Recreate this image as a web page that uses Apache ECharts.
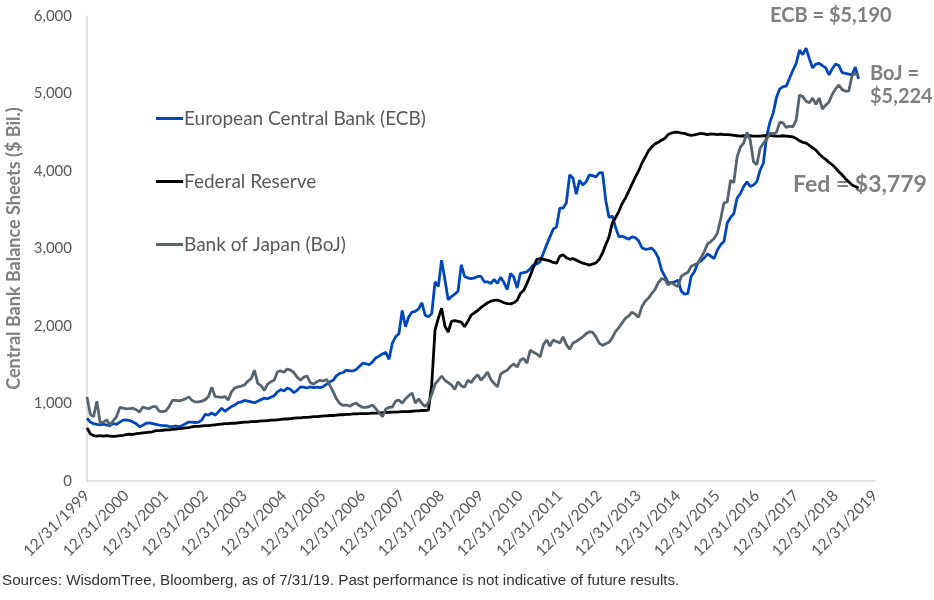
<!DOCTYPE html>
<html>
<head>
<meta charset="utf-8">
<script src="https://cdn.jsdelivr.net/npm/echarts@6/dist/echarts.min.js"></script>
<style>
html,body{margin:0;padding:0;background:#fff;}
#chart{width:934px;height:600px;}
</style>
</head>
<body>
<div id="chart"></div>
<script>
// Monthly month-end values, starting 12/31/1999 and ending 7/31/2019 ($ Bil.)
const yearTicks = ['12/31/1999','12/31/2000','12/31/2001','12/31/2002','12/31/2003','12/31/2004','12/31/2005','12/31/2006','12/31/2007','12/31/2008','12/31/2009','12/31/2010','12/31/2011','12/31/2012','12/31/2013','12/31/2014','12/31/2015','12/31/2016','12/31/2017','12/31/2018','12/31/2019'];

const ecb = [
  810,
  760,740,730,725,735,720,715,740,730,760,785,790,
  780,760,740,700,720,745,750,740,730,720,715,715,
  705,700,710,700,715,740,760,760,755,760,790,860,
  850,880,850,890,940,900,930,960,980,1010,1020,1040,
  1030,1020,1010,1030,1050,1070,1060,1080,1100,1150,1180,1160,
  1200,1180,1140,1170,1215,1210,1200,1215,1205,1210,1205,1220,
  1250,1280,1300,1360,1390,1400,1430,1420,1420,1440,1480,1520,
  1510,1500,1540,1590,1610,1640,1660,1570,1780,1860,1900,2200,
  1990,2120,2180,2190,2220,2300,2140,2120,2160,2570,2510,2850,
  2600,2340,2380,2410,2450,2790,2640,2620,2610,2620,2640,2640,
  2570,2570,2550,2600,2550,2630,2560,2470,2680,2630,2490,2680,
  2690,2700,2740,2790,2800,2830,2940,3050,3150,3250,3280,3520,
  3520,3590,3950,3910,3700,3880,3820,3860,3950,3940,3925,3975,
  3980,3620,3400,3420,3270,3150,3160,3140,3120,3150,3140,3100,
  3010,2990,2995,3005,2960,2880,2720,2640,2560,2560,2570,2590,
  2450,2410,2420,2640,2700,2810,2840,2880,2930,2900,2870,2980,
  3050,3090,3330,3400,3450,3650,3710,3800,3860,3800,3820,3860,
  4010,4100,4450,4630,4750,4950,5060,5090,5095,5200,5300,5390,
  5560,5500,5585,5450,5330,5380,5390,5360,5330,5240,5320,5380,
  5360,5270,5260,5250,5240,5340,5190
];

const fed = [
  685,
  610,585,580,585,580,585,580,575,580,585,590,600,
  605,600,610,615,620,625,630,635,650,650,655,660,
  660,665,670,675,680,685,690,700,705,705,710,715,
  715,720,725,730,735,740,740,745,745,750,755,760,
  760,765,765,770,775,775,780,785,785,790,795,800,
  800,805,810,815,815,820,820,825,830,830,835,840,
  840,845,845,850,855,855,860,860,865,865,870,870,
  870,872,875,877,880,882,885,887,890,890,892,895,
  895,897,900,905,905,910,910,915,1250,1950,2100,2230,
  2000,1920,2060,2070,2060,2050,1990,2060,2140,2170,2200,2240,
  2270,2300,2320,2330,2335,2320,2300,2290,2285,2300,2330,2420,
  2460,2550,2650,2760,2860,2870,2860,2850,2840,2820,2810,2900,
  2920,2880,2860,2870,2850,2830,2810,2800,2785,2800,2815,2860,
  2940,3050,3150,3330,3400,3480,3580,3650,3740,3830,3920,4000,
  4100,4180,4260,4310,4350,4370,4400,4420,4470,4490,4500,4500,
  4490,4485,4470,4460,4465,4475,4485,4480,4470,4480,4475,4470,
  4475,4470,4470,4465,4460,4455,4450,4455,4450,4455,4450,4450,
  4450,4455,4455,4460,4455,4450,4450,4455,4450,4445,4440,4420,
  4390,4370,4360,4330,4300,4270,4220,4180,4150,4110,4080,4040,
  3990,3950,3900,3860,3820,3800,3779
];

const boj = [
  1085,
  860,830,1030,750,760,790,720,780,830,950,940,930,
  935,940,920,890,955,940,935,960,960,900,895,905,
  960,1040,1040,1035,1045,1060,1085,1040,1020,1020,1030,1050,
  1090,1210,1090,1085,1080,1090,1045,1150,1200,1215,1225,1240,
  1290,1320,1430,1260,1230,1170,1250,1280,1300,1410,1420,1405,
  1445,1430,1400,1340,1300,1340,1355,1270,1250,1280,1300,1290,
  1310,1230,1150,1060,1000,975,980,965,990,1005,970,950,
  950,960,980,930,880,830,930,950,955,1030,1045,1005,
  1060,1100,1135,1005,1060,1000,960,1010,1120,1250,1300,1355,
  1300,1270,1240,1180,1280,1230,1210,1300,1270,1330,1370,1300,
  1350,1405,1310,1260,1215,1380,1410,1430,1480,1510,1470,1560,
  1580,1520,1690,1660,1640,1600,1760,1820,1740,1820,1800,1780,
  1860,1760,1700,1780,1800,1830,1860,1900,1925,1920,1860,1780,
  1750,1770,1790,1850,1930,1980,2040,2100,2130,2180,2150,2115,
  2250,2320,2360,2420,2470,2560,2610,2600,2530,2560,2530,2510,
  2640,2670,2690,2770,2790,2810,2880,2960,3060,3090,3130,3200,
  3380,3590,3600,3880,3850,4180,4310,4360,4500,4400,4120,4080,
  4290,4360,4410,4490,4480,4500,4630,4620,4560,4580,4570,4660,
  4980,4960,4900,4880,4940,4860,4940,4800,4850,4890,4990,5060,
  5110,5050,5030,5030,5230,5260,5224
];

const seriesNames = ['European Central Bank (ECB)', 'Federal Reserve', 'Bank of Japan (BoJ)'];
const seriesColors = ['#0047BB', '#000000', '#58646D'];

function toPairs(arr) {
  return arr.map(function (v, i) { return [i / 12, v]; });
}

const chart = echarts.init(document.getElementById('chart'), null, {renderer: 'canvas'});
const labelFont = 'Lato, "Open Sans", sans-serif';

chart.setOption({
  animation: false,
  backgroundColor: '#ffffff',
  grid: {left: 87, right: 59, top: 16, bottom: 119, containLabel: false, outerBoundsMode: 'none'},
  legend: {
    orient: 'vertical',
    left: 151,
    top: 104,
    itemGap: 44,
    itemWidth: 27,
    itemHeight: 3,
    icon: 'rect',
    textStyle: {color: '#595959', fontSize: 19, fontFamily: labelFont, padding: [0, 0, 0, -4]},
    data: seriesNames
  },
  xAxis: {
    type: 'value',
    min: 0,
    max: 20,
    interval: 1,
    axisLine: {show: true, lineStyle: {color: '#d9d9d9', width: 1.5}},
    axisTick: {show: false},
    splitLine: {show: false},
    axisLabel: {
      rotate: 45,
      margin: 12,
      color: '#595959',
      fontSize: 15.5,
      fontFamily: labelFont,
      formatter: function (v) { return yearTicks[Math.round(v)] || ''; }
    }
  },
  yAxis: {
    type: 'value',
    min: 0,
    max: 6000,
    interval: 1000,
    name: 'Central Bank Balance Sheets ($ Bil.)',
    nameLocation: 'middle',
    nameGap: 64,
    nameTextStyle: {color: '#7f7f7f', fontSize: 18, fontWeight: 'bold', fontFamily: labelFont},
    axisLine: {show: true, lineStyle: {color: '#d9d9d9', width: 1.5}},
    axisTick: {show: false},
    splitLine: {show: false},
    axisLabel: {
      margin: 15,
      color: '#595959',
      fontSize: 15,
      fontFamily: labelFont,
      formatter: function (v) { return v.toLocaleString('en-US'); }
    }
  },
  series: [
    {name: seriesNames[0], type: 'line', data: toPairs(ecb), showSymbol: false, symbol: 'none',
     lineStyle: {color: seriesColors[0], width: 2.8}, itemStyle: {color: seriesColors[0]}},
    {name: seriesNames[1], type: 'line', data: toPairs(fed), showSymbol: false, symbol: 'none',
     lineStyle: {color: seriesColors[1], width: 2.8}, itemStyle: {color: seriesColors[1]}},
    {name: seriesNames[2], type: 'line', data: toPairs(boj), showSymbol: false, symbol: 'none',
     lineStyle: {color: seriesColors[2], width: 2.8}, itemStyle: {color: seriesColors[2]}}
  ],
  graphic: [
    {type: 'text', left: 770, top: 6, style: {text: 'ECB = $5,190', fill: '#7f7f7f', font: 'bold 20px ' + labelFont}},
    {type: 'text', left: 870, top: 62, style: {text: 'BoJ =\n$5,224', fill: '#7f7f7f', font: 'bold 20px ' + labelFont, lineHeight: 23}},
    {type: 'text', left: 793, top: 173, style: {text: 'Fed = $3,779', fill: '#7f7f7f', font: 'bold 23px ' + labelFont}},
    {type: 'text', left: 2, top: 573, style: {text: 'Sources: WisdomTree, Bloomberg, as of 7/31/19. Past performance is not indicative of future results.', fill: '#333333', font: '15.2px "Liberation Sans", Arial, sans-serif'}}
  ]
});
</script>
</body>
</html>
